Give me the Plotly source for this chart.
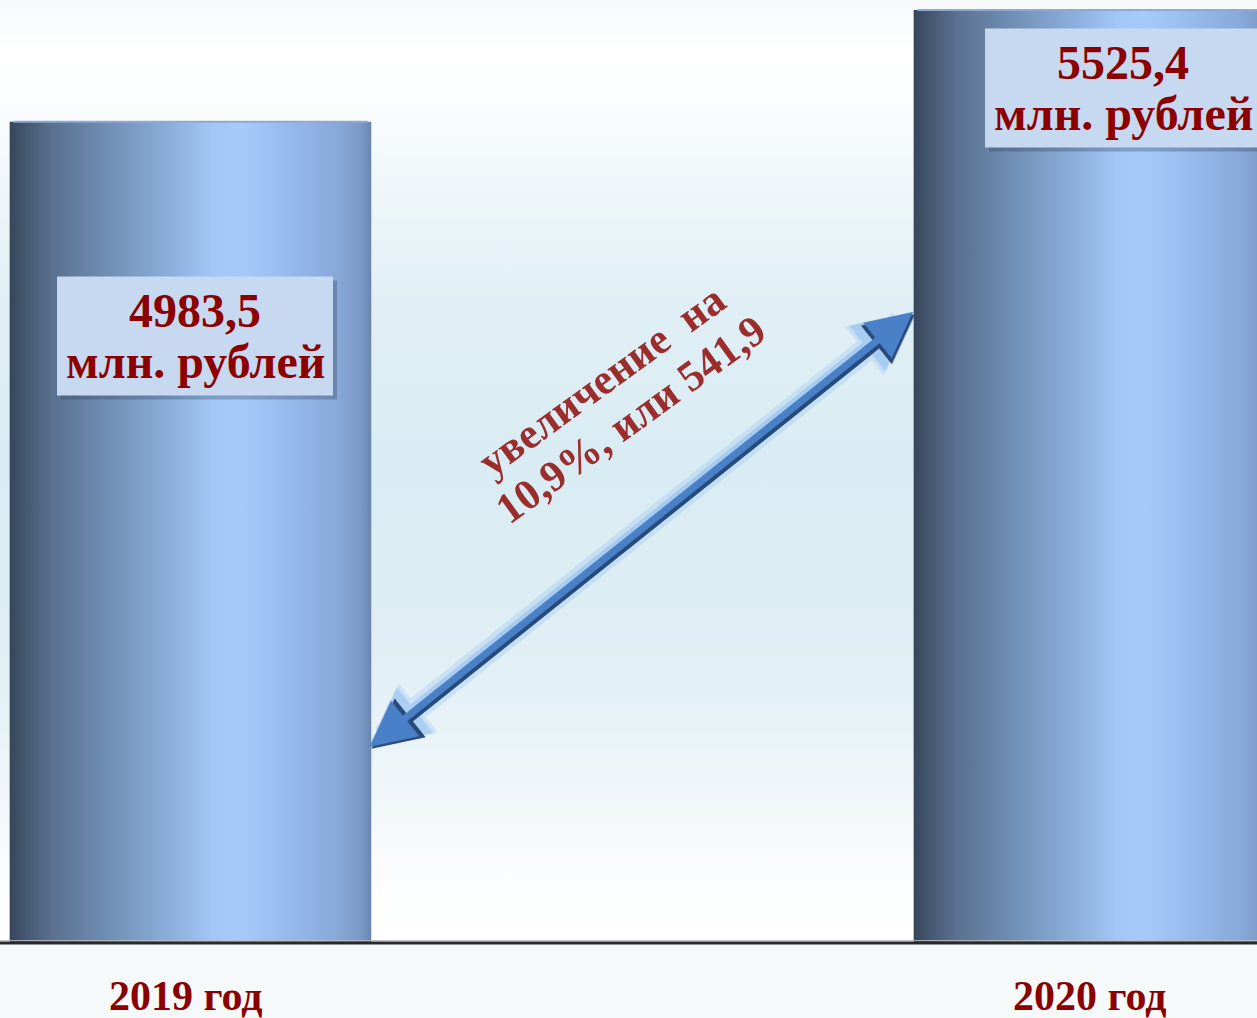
import plotly.graph_objects as go

# ---------------- data ----------------
categories = ["2019 год", "2020 год"]
values = [4983.5, 5525.4]
unit_label = "млн. рублей"
change_prefix = "увеличение\u00a0 на"
change_mid = "или"

# ---------------- layout constants ----------------
W, H = 1257, 1018
MT, MB = 0, 75
PH = H - MT - MB
Y0, Y1 = 1000, 5574
X0 = -0.2107
X1 = X0 + W / 904.0
BAR_W = 0.4
SERIF = "Liberation Serif, Times New Roman, serif"
DARKRED = "#8b0000"


def px_x(px):
    return X0 + px / W * (X1 - X0)


def px_y(py):
    return Y0 + (PH - py) / PH * (Y1 - Y0)


def fmt(v, nd=1):
    return f"{v:.{nd}f}".replace(".", ",")


fig = go.Figure()

# background gradient of the plot area
bg_scale = [
    [0.0, "#ffffff"], [0.067, "#fcfdfe"], [0.152, "#f1f7fa"], [0.258, "#e4f1f6"],
    [0.364, "#dcedf3"], [0.52, "#daecf3"], [0.68, "#e0eff5"], [0.79, "#eef6f9"],
    [0.894, "#fbfdfe"], [0.947, "#ffffff"], [1.0, "#f5f9fb"],
]
fig.add_trace(go.Scatter(
    x=[X0, X1, X1, X0, X0], y=[Y0, Y0, Y1, Y1, Y0], mode="lines",
    fill="toself", fillgradient=dict(type="vertical", colorscale=bg_scale),
    line=dict(width=0), hoverinfo="skip", showlegend=False))

# cylinder-like bars
bar_scale = [
    [0.0, "#36465a"], [0.04, "#44566f"], [0.12, "#5a7190"], [0.28, "#7190b6"],
    [0.45, "#8cafdd"], [0.56, "#a2c6f5"], [0.64, "#a6cbfa"], [0.76, "#97bbed"],
    [0.9, "#88a9da"], [0.97, "#7b99c6"], [1.0, "#6a86ae"],
]
for i, (cat, v) in enumerate(zip(categories, values)):
    xl, xr = i - BAR_W / 2, i + BAR_W / 2
    fig.add_trace(go.Scatter(
        x=[xl, xr, xr, xl, xl], y=[Y0, Y0, v, v, Y0], mode="lines",
        fill="toself", fillgradient=dict(type="horizontal", colorscale=bar_scale),
        line=dict(width=0), hoverinfo="skip", showlegend=False, name=cat))
    fig.add_trace(go.Scatter(
        x=[xl + 0.004, xr - 0.004], y=[v, v], mode="lines",
        line=dict(width=2, color="#8ea9d2"), hoverinfo="skip", showlegend=False))

shapes = []
annotations = []

# baseline
shapes.append(dict(type="line", xref="paper", yref="paper", x0=0, x1=1, y0=0.0025, y1=0.0025,
                   line=dict(color="#b8bcc2", width=1)))
shapes.append(dict(type="line", xref="paper", yref="paper", x0=0, x1=1, y0=0, y1=0,
                   line=dict(color="#2a2a2a", width=3)))

# value boxes (pixel centers of each box)
BOX_CENTERS = [(195, 336), (1123, 88)]
BOX_W, BOX_H = 276, 119
for i, v in enumerate(values):
    cx, cy = BOX_CENTERS[i]
    shapes.append(dict(type="rect", xref="x", yref="y",
                       x0=px_x(cx - BOX_W / 2 + 4), x1=px_x(cx + BOX_W / 2 + 4),
                       y0=px_y(cy + BOX_H / 2 + 4), y1=px_y(cy - BOX_H / 2 + 4),
                       fillcolor="rgba(40,55,80,0.3)", line=dict(width=0)))
    shapes.append(dict(type="rect", xref="x", yref="y",
                       x0=px_x(cx - BOX_W / 2), x1=px_x(cx + BOX_W / 2),
                       y0=px_y(cy + BOX_H / 2), y1=px_y(cy - BOX_H / 2),
                       fillcolor="#c6d9f0", line=dict(width=0)))
    annotations.append(dict(text=f"<b>{fmt(v)}</b>", x=px_x(cx), y=px_y(cy - 26),
                            xref="x", yref="y", showarrow=False, xanchor="center",
                            yanchor="middle", font=dict(family=SERIF, size=48, color=DARKRED)))
    annotations.append(dict(text=f"<b>{unit_label}</b>", x=px_x(cx), y=px_y(cy + 25),
                            xref="x", yref="y", showarrow=False, xanchor="center",
                            yanchor="middle", font=dict(family=SERIF, size=48, color=DARKRED)))

# category labels below the baseline
for i, cat in enumerate(categories):
    annotations.append(dict(text=f"<b>{cat}</b>", x=i - 0.005, y=0, xref="x", yref="paper",
                            yshift=-53, showarrow=False, xanchor="center", yanchor="middle",
                            font=dict(family=SERIF, size=42, color=DARKRED)))

# double-headed arrow with glow
A_TAIL = (368, 748)
A_HEAD = (913, 312)
arrow_common = dict(x=px_x(A_HEAD[0]), y=px_y(A_HEAD[1]), ax=px_x(A_TAIL[0]), ay=px_y(A_TAIL[1]),
                    xref="x", yref="y", axref="x", ayref="y", text="", showarrow=True,
                    arrowside="end+start")
annotations.append(dict(**arrow_common, arrowcolor="rgba(120,175,240,0.22)", arrowwidth=24,
                        arrowhead=2, startarrowhead=2, arrowsize=0.52, startarrowsize=0.52))
annotations.append(dict(**arrow_common, arrowcolor="rgba(110,168,238,0.35)", arrowwidth=15,
                        arrowhead=2, startarrowhead=2, arrowsize=0.78, startarrowsize=0.78))
annotations.append(dict(**arrow_common, arrowcolor="#274a78", arrowwidth=9, xshift=2, yshift=-2,
                        arrowhead=2, startarrowhead=2, arrowsize=1.1, startarrowsize=1.1))
annotations.append(dict(**arrow_common, arrowcolor="#4a80c8", arrowwidth=7,
                        arrowhead=2, startarrowhead=2, arrowsize=1.3, startarrowsize=1.3))

# rotated change text (computed from the data)
diff = values[1] - values[0]
pct = diff / values[0] * 100
TEXT_ANGLE = -36
annotations.append(dict(text=f"<b>{change_prefix}</b>", x=px_x(601), y=px_y(380),
                        xref="x", yref="y", showarrow=False, textangle=TEXT_ANGLE,
                        xanchor="center", yanchor="middle",
                        font=dict(family=SERIF, size=43, color="#9b2d2d")))
annotations.append(dict(text=f"<b>{fmt(pct)}%, {change_mid} {fmt(diff)}</b>", x=px_x(630), y=px_y(419),
                        xref="x", yref="y", showarrow=False, textangle=TEXT_ANGLE,
                        xanchor="center", yanchor="middle",
                        font=dict(family=SERIF, size=43, color="#9b2d2d")))

fig.update_layout(
    width=W, height=H,
    margin=dict(l=0, r=0, t=MT, b=MB, pad=0),
    paper_bgcolor="#f5f9fa", plot_bgcolor="#ffffff",
    showlegend=False,
    xaxis=dict(range=[X0, X1], visible=False, fixedrange=True),
    yaxis=dict(range=[Y0, Y1], visible=False, fixedrange=True),
    shapes=shapes, annotations=annotations,
)

fig.write_html("out.html", config={"displayModeBar": False},
               post_script="document.body.style.margin='0';document.body.style.overflow='hidden';")
